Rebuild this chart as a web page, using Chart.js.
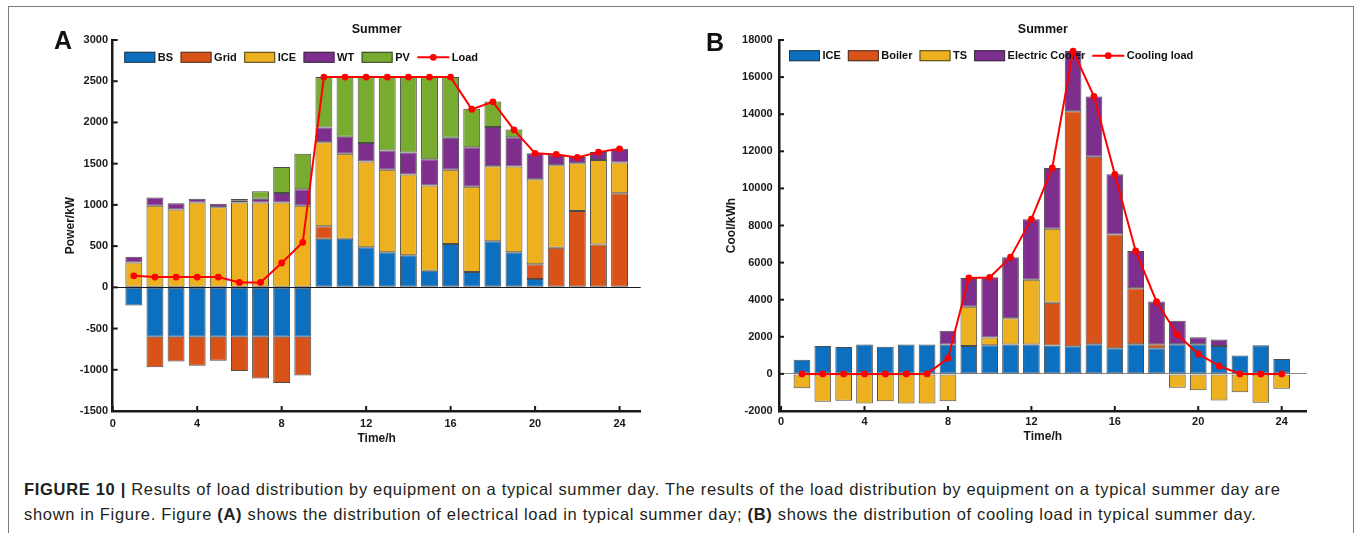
<!DOCTYPE html>
<html lang="en">
<head>
  <meta charset="UTF-8" />
  <title>Load distribution on a typical summer day</title>
  <script src="https://cdn.jsdelivr.net/npm/chart.js"></script>
  <style>
    body { margin: 0; background: #fff; font-family: "Liberation Sans", Arial, sans-serif; }
    #page { position: relative; width: 1356px; height: 533px; overflow: hidden; }
    #frame { position: absolute; left: 8px; top: 6px; width: 1344px; height: 560px; border: 1.5px solid #7b7b7b; }
    .panel { position: absolute; top: 0; }
    .tag { position: absolute; font: bold 25px "Liberation Sans", Arial, sans-serif; color: #111; line-height: 1; }
    #caption { position: absolute; left: 24px; top: 477px; font-size: 16.5px; letter-spacing: 0.68px; line-height: 25px; color: #231f20; white-space: nowrap; }
  </style>
</head>
<body>
<div id="page">
  <div id="frame"></div>
  <canvas id="chartA" class="panel" width="678" height="450" style="left:0"></canvas>
  <canvas id="chartB" class="panel" width="678" height="450" style="left:678px"></canvas>
  <div class="tag" style="left:54px; top:28px">A</div>
  <div class="tag" style="left:706px; top:30px">B</div>
  <div id="caption">
    <b>FIGURE 10 |</b> Results of load distribution by equipment on a typical summer day. The results of the load distribution by equipment on a typical summer day are<br>
    shown in Figure. Figure <b>(A)</b> shows the distribution of electrical load in typical summer day; <b>(B)</b> shows the distribution of cooling load in typical summer day.
  </div>
</div>

<script>
// hours of the day
const hours = [1, 2, 3, 4, 5, 6, 7, 8, 9, 10, 11, 12, 13, 14, 15, 16, 17, 18, 19, 20, 21, 22, 23, 24];

// (A) electrical balance, kW
const bsPower   = [-220, -600, -600, -600, -600, -600, -600, -600, -600, 590, 590, 485, 425, 390, 200, 525, 185, 560, 425, 100, 0, 0, 0, 0];
const gridPower = [0, -370, -300, -350, -290, -415, -505, -560, -470, 150, 0, 0, 0, 0, 0, 0, 0, 0, 0, 180, 480, 925, 520, 1140];
const icePower  = [300, 990, 945, 1030, 970, 1030, 1030, 1030, 990, 1020, 1030, 1040, 1000, 980, 1035, 900, 1035, 910, 1040, 1030, 1000, 580, 1025, 375];
const wtPower   = [70, 100, 75, 45, 45, 20, 45, 115, 200, 180, 205, 225, 235, 265, 320, 390, 480, 475, 355, 315, 130, 75, 95, 165];
const pvPower   = [0, 0, 0, 0, 0, 20, 90, 315, 430, 610, 720, 800, 890, 915, 1000, 735, 465, 310, 95, 0, 0, 0, 0, 0];
const elecLoad  = [140, 125, 125, 125, 125, 60, 60, 295, 546, 2550, 2550, 2550, 2550, 2550, 2550, 2550, 2160, 2250, 1910, 1625, 1612, 1575, 1640, 1680];

// (B) cooling balance, kWh
const iceCool    = [760, 1500, 1450, 1590, 1470, 1590, 1590, 1590, 1500, 1550, 1590, 1580, 1530, 1490, 1600, 1380, 1600, 1380, 1600, 1600, 1510, 990, 1550, 800];
const boilerCool = [0, 0, 0, 0, 0, 0, 0, 0, 0, 0, 0, 0, 2300, 12670, 10110, 6130, 3020, 220, 0, 0, 0, 0, 0, 0];
const tsCool     = [-770, -1500, -1450, -1590, -1470, -1590, -1590, -1480, 2120, 410, 1410, 3490, 4000, 0, 0, 0, 0, 0, -740, -880, -1440, -990, -1560, -800];
const ecCool     = [0, 0, 0, 0, 0, 0, 0, 730, 1550, 3250, 3290, 3270, 3270, 3250, 3250, 3250, 2010, 2300, 1260, 380, 340, 0, 0, 0];
const coolLoad   = [0, 0, 0, 0, 0, 0, 0, 845, 5170, 5200, 6290, 8340, 11100, 17400, 14960, 10760, 6630, 3890, 2120, 1078, 431, 0, 0, 0];

const xTicks = [0, 4, 8, 12, 16, 20, 24];

Chart.defaults.font.family = '"Liberation Sans", Arial, sans-serif';
Chart.defaults.color = '#1a1a1a';

const C = { blue: '#0d6fbf', orange: '#d95319', yellow: '#edb120', purple: '#7e2f8e', green: '#77ac30', red: '#ff0000' };

const pts = arr => hours.map((h, i) => ({ x: h, y: arr[i] }));

function barSet(label, arr, color) {
  return {
    type: 'bar', label, data: pts(arr), backgroundColor: color,
    borderColor: 'rgba(45,45,45,0.85)', borderWidth: 1, borderSkipped: false,
    barPercentage: 0.8, categoryPercentage: 1, order: 1
  };
}
function lineSet(label, arr) {
  return {
    type: 'line', label, data: pts(arr), stack: 'load', order: 0,
    borderColor: C.red, backgroundColor: C.red, borderWidth: 2,
    pointRadius: 3.4, pointBackgroundColor: C.red, pointBorderWidth: 0, tension: 0, clip: false
  };
}

// tick marks pointing into the plot
const inwardTicks = {
  id: 'inwardTicks',
  afterDraw(chart) {
    const { ctx, chartArea, scales: { x, y } } = chart;
    ctx.save();
    ctx.strokeStyle = '#1a1a1a';
    ctx.lineWidth = 2;
    x.ticks.forEach(t => {
      const px = x.getPixelForValue(t.value);
      ctx.beginPath(); ctx.moveTo(px, chartArea.bottom); ctx.lineTo(px, chartArea.bottom - 5); ctx.stroke();
    });
    y.ticks.forEach(t => {
      const py = y.getPixelForValue(t.value);
      ctx.beginPath(); ctx.moveTo(chartArea.left, py); ctx.lineTo(chartArea.left + 5, py); ctx.stroke();
    });
    ctx.restore();
  }
};

// legend row inside the plot, drawn after the bars and before the load line
const boxLegend = {
  id: 'boxLegend',
  afterDatasetDraw(chart, args, opts) {
    if (args.index !== 0) return;
    const { ctx, chartArea } = chart;
    let xPos = chartArea.left + opts.left;
    const yMid = chartArea.top + opts.top;
    ctx.save();
    ctx.font = 'bold 11px "Liberation Sans", Arial, sans-serif';
    ctx.textBaseline = 'middle';
    chart.data.datasets.forEach(ds => {
      if (ds.type === 'bar') {
        ctx.fillStyle = ds.backgroundColor;
        ctx.fillRect(xPos, yMid - 5.5, 31, 11);
        ctx.strokeStyle = 'rgba(45,45,45,0.85)';
        ctx.lineWidth = 1;
        ctx.strokeRect(xPos + 0.5, yMid - 5, 30, 10);
        xPos += 33.5;
      } else {
        ctx.strokeStyle = ds.borderColor;
        ctx.lineWidth = 2;
        ctx.beginPath(); ctx.moveTo(xPos, yMid); ctx.lineTo(xPos + 32, yMid); ctx.stroke();
        ctx.fillStyle = ds.borderColor;
        ctx.beginPath(); ctx.arc(xPos + 16, yMid, 3.4, 0, Math.PI * 2); ctx.fill();
        xPos += 34.5;
      }
      ctx.fillStyle = '#111';
      ctx.fillText(ds.label, xPos, yMid + 0.5);
      xPos += ctx.measureText(ds.label).width + opts.gap;
    });
    ctx.restore();
  }
};

function makeChart(id, datasets, cfg) {
  return new Chart(document.getElementById(id), {
    data: { datasets },
    plugins: [inwardTicks, boxLegend],
    options: {
      responsive: false, animation: false, events: [], devicePixelRatio: 1,
      layout: { padding: { left: 0, top: 10, right: cfg.padRight, bottom: 0 } },
      plugins: {
        legend: { display: false },
        tooltip: { enabled: false },
        title: {
          display: true, text: 'Summer', fullSize: false, color: '#111',
          font: { size: 12.5, weight: 'bold' }, padding: cfg.titlePad
        },
        boxLegend: cfg.legend
      },
      scales: {
        x: {
          type: 'linear', stacked: true, min: cfg.xMin, max: cfg.xMax, offset: false,
          afterBuildTicks: s => { s.ticks = xTicks.map(v => ({ value: v })); },
          afterFit: s => { s.height = 39; },
          ticks: { padding: cfg.xTickPad, font: { size: 11, weight: 'bold' }, color: '#1a1a1a', callback: v => String(v) },
          grid: { display: false, drawTicks: false, offset: false },
          border: { display: true, width: 2.5, color: '#1a1a1a' },
          title: { display: true, text: 'Time/h', font: { size: 12, weight: 'bold' }, color: '#1a1a1a', padding: { top: 0, bottom: cfg.xTitlePad } }
        },
        y: {
          stacked: true, min: cfg.yMin, max: cfg.yMax,
          afterFit: s => { s.width = cfg.yWidth; },
          ticks: { stepSize: cfg.yStep, padding: cfg.yTickPad, font: { size: 11, weight: 'bold' }, color: '#1a1a1a', callback: v => String(v) },
          grid: {
            drawTicks: false,
            color: c => (c.tick && c.tick.value === 0) ? cfg.zeroColor : 'rgba(0,0,0,0)',
            lineWidth: 1
          },
          border: { display: true, width: 2.5, color: '#1a1a1a' },
          title: { display: true, text: cfg.yTitle, font: { size: 12, weight: 'bold' }, color: '#1a1a1a', padding: { top: cfg.yTitlePad, bottom: 0 } }
        }
      }
    }
  });
}

makeChart('chartA', [
  barSet('BS', bsPower, C.blue),
  barSet('Grid', gridPower, C.orange),
  barSet('ICE', icePower, C.yellow),
  barSet('WT', wtPower, C.purple),
  barSet('PV', pvPower, C.green),
  lineSet('Load', elecLoad)
], {
  padRight: 37.3, titlePad: { top: 11.8, bottom: 3.2 },
  xMin: 0, xMax: 25, xTickPad: 6.4, xTitlePad: 4.3,
  yMin: -1500, yMax: 3000, yStep: 500, yWidth: 112.7, yTickPad: 4.7, yTitlePad: 63.8,
  yTitle: 'Power/kW', zeroColor: '#1a1a1a',
  legend: { left: 11.6, top: 17.3, gap: 7.5 }
});

makeChart('chartB', [
  barSet('ICE', iceCool, C.blue),
  barSet('Boiler', boilerCool, C.orange),
  barSet('TS', tsCool, C.yellow),
  barSet('Electric Cooler', ecCool, C.purple),
  lineSet('Cooling load', coolLoad)
], {
  padRight: 49.3, titlePad: { top: 12.5, bottom: 2.5 },
  xMin: -0.1, xMax: 25.2, xTickPad: 4.7, xTitlePad: 6.1,
  yMin: -2000, yMax: 18000, yStep: 2000, yWidth: 101, yTickPad: 6.3, yTitlePad: 46.8,
  yTitle: 'Cool/kWh', zeroColor: '#8a8a8a',
  legend: { left: 10, top: 15.7, gap: 7 }
});
</script>
</body>
</html>
